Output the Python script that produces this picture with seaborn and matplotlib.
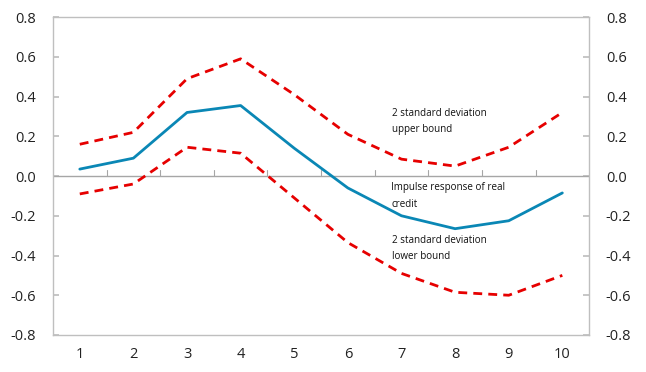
import numpy as np
import pandas as pd
import matplotlib
matplotlib.use("Agg")
import matplotlib.pyplot as plt
import seaborn as sns

periods = [1, 2, 3, 4, 5, 6, 7, 8, 9, 10]
impulse = [0.035, 0.09, 0.32, 0.355, 0.14, -0.06, -0.20, -0.265, -0.225, -0.085]
upper = [0.16, 0.22, 0.49, 0.59, 0.41, 0.21, 0.085, 0.05, 0.145, 0.32]
lower = [-0.09, -0.04, 0.145, 0.115, -0.11, -0.335, -0.49, -0.585, -0.60, -0.50]
yticks = [-0.8, -0.6, -0.4, -0.2, 0.0, 0.2, 0.4, 0.6, 0.8]

sns.set_theme(style="white")
plt.rcParams['font.family'] = ['Open Sans', 'DejaVu Sans']

fig = plt.figure(figsize=(6.46, 3.72), dpi=100)
ax = fig.add_axes([0.082, 0.0995, 0.830, 0.8545])

blue = "#0a87b5"
red = "#e60000"

df_imp = pd.DataFrame({"x": periods, "y": impulse})
df_up = pd.DataFrame({"x": periods, "y": upper})
df_lo = pd.DataFrame({"x": periods, "y": lower})

sns.lineplot(data=df_imp, x="x", y="y", ax=ax, color=blue, linewidth=2.0)
sns.lineplot(data=df_up, x="x", y="y", ax=ax, color=red, linewidth=2.0)
sns.lineplot(data=df_lo, x="x", y="y", ax=ax, color=red, linewidth=2.0)
for ln in ax.get_lines()[1:]:
    ln.set_linestyle((0, (3.2, 2.2)))

ax.set_xlim(0.5, 10.5)
ax.set_ylim(-0.8, 0.8)
ax.set_yticks(yticks)
ax.set_yticklabels([f"{v:.1f}" for v in yticks])
ax.set_xticks(periods)
ax.set_xticklabels([str(p) for p in periods])
ax.set_xlabel("")
ax.set_ylabel("")

for s in ax.spines.values():
    s.set_color("#bfbfbf")
    s.set_linewidth(1.0)

ax.axhline(0, color="#a6a6a6", linewidth=1.0, zorder=1)
# category boundary ticks on the zero line
for b in np.arange(1.5, 10.5, 1.0):
    ax.plot([b, b], [0, 0.03], color="#a6a6a6", linewidth=0.8, zorder=1)

ax.tick_params(axis="y", which="both", direction="in", length=4, color="#bfbfbf",
               left=True, right=True, labelleft=True, labelright=True,
               labelsize=10.5, labelcolor="#222222", pad=12)
ax.tick_params(axis="x", length=0, labelsize=10.5, labelcolor="#222222", pad=9)

fs = 7.1
ax.text(6.83, 0.275, "2 standard deviation\nupper bound", fontsize=fs, va="center",
        ha="left", color="#111111", linespacing=1.7)
ax.text(6.81, -0.1, "Impulse response of real\ncredit", fontsize=fs, va="center",
        ha="left", color="#111111", linespacing=1.7)
ax.text(6.83, -0.365, "2 standard deviation\nlower bound", fontsize=fs, va="center",
        ha="left", color="#111111", linespacing=1.7)

fig.savefig("out.png", dpi=100)
